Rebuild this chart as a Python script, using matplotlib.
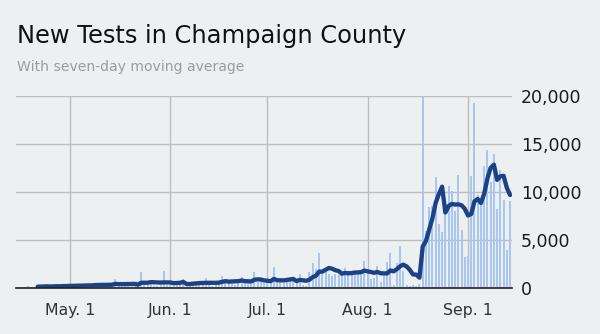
import numpy as np
import pandas as pd
import matplotlib
matplotlib.use("Agg")
import matplotlib.dates as mdates
import matplotlib.pyplot as plt

# daily new tests, Apr 15 - Sep 14
tests_apr = [60, 100, 90, 250, 120, 150, 180, 140, 170, 200, 160, 210, 230, 180, 250, 240]
tests_may = [220, 260, 280, 250, 300, 270, 320, 300, 490, 280, 330, 300, 350, 320, 960,
             300, 280, 350, 380, 400, 350, 380, 1700, 300, 320, 860, 250, 250, 300, 1800, 300]
tests_jun = [300, 350, 400, 350, 930, 300, 250, 600, 550, 600, 450, 1040, 300, 250, 600,
             650, 1210, 930, 700, 400, 300, 800, 1130, 750, 800, 600, 1650, 600, 600, 550]
tests_jul = [500, 500, 2190, 700, 600, 500, 900, 800, 900, 700, 1490, 300, 200, 1700, 2600,
             1970, 3640, 1560, 1620, 1500, 1210, 1460, 1400, 1700, 2080, 1400, 1620, 1620, 1550, 1620, 2780]
tests_aug = [1500, 960, 1040, 2250, 580, 1560, 2720, 3660, 350, 2600, 4340, 1800, 300, 200, 300,
             200, 400, 27000, 5900, 8470, 8500, 11560, 6670, 5800, 8150, 10590, 10070, 7980, 11740, 6010, 3230]
tests_sep = [3300, 11630, 19280, 9720, 8820, 12740, 14340, 11070, 13950, 8200, 12330, 9200, 3990, 9060]

start_date = "2020-04-15"
month_ticks = ["2020-05-01", "2020-06-01", "2020-07-01", "2020-08-01", "2020-09-01"]
month_labels = ["May. 1", "Jun. 1", "Jul. 1", "Aug. 1", "Sep. 1"]
y_ticks = [0, 5000, 10000, 15000, 20000]
y_labels = ["0", "5,000", "10,000", "15,000", "20,000"]

BG = "#edf0f1"
BAR_COLOR = "#a9c6f0"
LINE_COLOR = "#1c4285"
GRID_COLOR = "#bdbdbd"

values = tests_apr + tests_may + tests_jun + tests_jul + tests_aug + tests_sep
tests = pd.Series(values, index=pd.date_range(start_date, periods=len(values), freq="D"))
avg = tests.rolling(7, min_periods=7).mean()

fig = plt.figure(figsize=(6, 3.34), dpi=100, facecolor=BG)
ax = fig.add_axes([16 / 600, 1 - 288 / 334, 496 / 600, 192 / 334])
ax.set_facecolor(BG)

ax.bar(tests.index, tests.values, width=0.62, color=BAR_COLOR, zorder=2)
ax.plot(avg.index, avg.values, color=LINE_COLOR, lw=3.1, solid_capstyle="round",
        solid_joinstyle="round", zorder=3)

ax.set_ylim(0, 20000)
ax.set_xlim(pd.Timestamp("2020-05-01") - pd.Timedelta(days=16.7),
            pd.Timestamp("2020-05-01") + pd.Timedelta(days=136.6))

ax.set_yticks(y_ticks)
ax.set_yticklabels(y_labels)
ax.yaxis.tick_right()
ax.tick_params(axis="y", length=0, pad=6.5, labelsize=12.5, labelcolor="#1a1a1a")

ax.set_xticks(pd.to_datetime(month_ticks))
ax.set_xticklabels(month_labels)
ax.tick_params(axis="x", length=0, pad=10.5, labelsize=11.3, labelcolor="#333333")

ax.grid(True, color=GRID_COLOR, lw=1.0)
ax.set_axisbelow(True)
for side in ["top", "left", "right"]:
    ax.spines[side].set_visible(False)
ax.spines["bottom"].set_color("#222222")
ax.spines["bottom"].set_linewidth(1.2)
ax.spines["bottom"].set_zorder(4)

fig.text(17 / 600, 1 - 43 / 334, "New Tests in Champaign County", fontsize=17.35,
         color="#111111", va="baseline", ha="left")
fig.text(17 / 600, 1 - 71 / 334, "With seven-day moving average", fontsize=10.05,
         color="#9c9c9c", va="baseline", ha="left")

fig.savefig("out.png", dpi=100, facecolor=BG)
